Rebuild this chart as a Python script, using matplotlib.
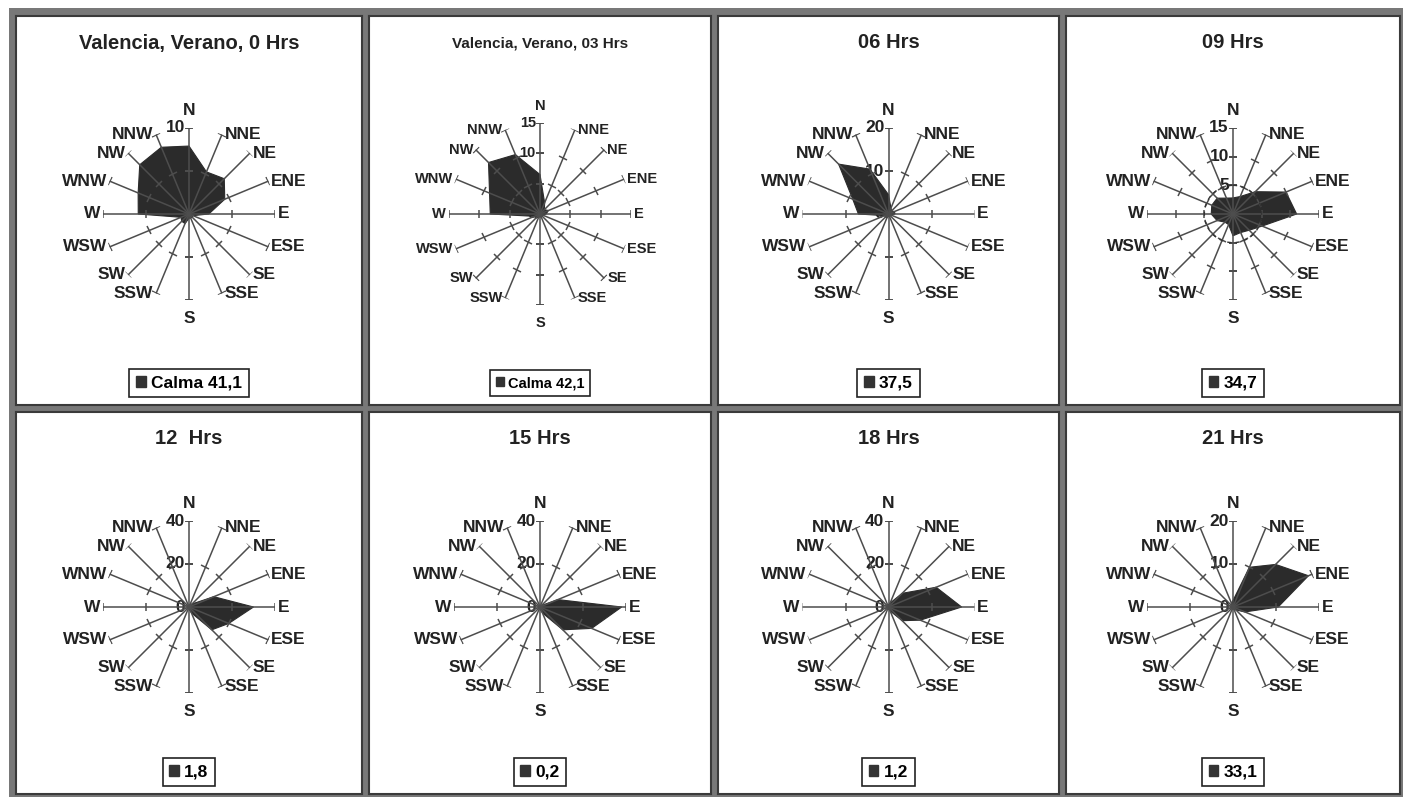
import numpy as np
import matplotlib
matplotlib.use("Agg")
import matplotlib.pyplot as plt
from matplotlib.patches import Patch
from matplotlib.markers import MarkerStyle
from matplotlib.transforms import Affine2D
from matplotlib import font_manager

# fonts: narrow bold like the original, fall back if not installed
names = {f.name for f in font_manager.fontManager.ttflist}
narrow = "Liberation Sans Narrow" if "Liberation Sans Narrow" in names else "Liberation Sans"
plt.rcParams["font.family"] = [narrow, "DejaVu Sans"]

# data (percent of time per direction), N clockwise to NNW
directions = ["N", "NNE", "NE", "ENE", "E", "ESE", "SE", "SSE",
              "S", "SSW", "SW", "WSW", "W", "WNW", "NW", "NNW"]
titles = ["Valencia, Verano, 0 Hrs", "Valencia, Verano, 03 Hrs", "06 Hrs", "09 Hrs",
          "12  Hrs", "15 Hrs", "18 Hrs", "21 Hrs"]
calma = ["Calma 41,1", "Calma 42,1", "37,5", "34,7", "1,8", "0,2", "1,2", "33,1"]

h00 = [7.9, 5.3, 5.8, 4.5, 2.3, 0.5, 0.5, 0.5, 0.5, 1.2, 1.2, 1.0, 5.9, 6.4, 8.1, 8.4]
h03 = [6.5, 2.0, 1.0, 1.5, 1.0, 0.5, 0.5, 0.5, 0.5, 0.5, 1.0, 1.0, 8.2, 9.0, 12.0, 10.6]
h06 = [4.5, 1.5, 1.0, 1.5, 1.5, 0.5, 0.5, 0.5, 0.5, 1.0, 1.0, 1.0, 7.0, 9.0, 16.4, 11.3]
h09 = [2.8, 3.3, 5.5, 10.0, 11.1, 5.5, 4.0, 3.5, 3.8, 2.0, 2.0, 3.0, 3.8, 4.0, 3.9, 3.0]
h12 = [1.0, 1.0, 2.0, 12.5, 30.0, 20.0, 15.0, 3.0, 1.0, 0.5, 0.5, 0.5, 0.5, 0.5, 0.5, 0.5]
h15 = [0.5, 0.5, 1.0, 9.0, 38.0, 26.0, 15.0, 3.0, 1.0, 0.5, 0.5, 0.5, 0.5, 0.5, 0.5, 0.5]
h18 = [1.0, 2.0, 9.0, 24.0, 34.0, 16.0, 9.0, 2.0, 1.0, 0.5, 0.5, 0.5, 0.5, 0.5, 0.5, 0.5]
h21 = [1.5, 10.0, 14.0, 19.0, 10.5, 3.0, 1.0, 0.5, 0.5, 0.5, 0.5, 0.5, 0.5, 0.5, 0.5, 1.0]
series = [h00, h03, h06, h09, h12, h15, h18, h21]

r_max = [10, 15, 20, 15, 40, 40, 40, 20]
r_ticks = [[0, 5, 10], [0, 5, 10, 15], [0, 10, 20], [0, 5, 10, 15],
           [0, 20, 40], [0, 20, 40], [0, 20, 40], [0, 10, 20]]
ring = [None, None, None, 5, None, None, None, None]

# layout in pixels
W, H = 1403, 797
cols = [(16, 362), (369, 711), (718, 1059), (1066, 1400)]
rows = [(16, 405), (412, 794)]


def frac(x0, y0, x1, y1):
    return [x0 / W, 1 - y1 / H, (x1 - x0) / W, (y1 - y0) / H]


fig = plt.figure(figsize=(W / 100, H / 100), dpi=100)
fig.patch.set_facecolor("white")

bg = fig.add_axes(frac(9, 8, W, H))
bg.set_facecolor("#787878")
bg.set_xticks([])
bg.set_yticks([])
for s in bg.spines.values():
    s.set_visible(False)

theta = np.deg2rad(np.arange(16) * 22.5)
fill_c = "#2b2b2b"
line_c = "#4d4d4d"

for i in range(8):
    r, c = divmod(i, 4)
    x0, x1 = cols[c]
    y0, y1 = rows[r]
    pw, ph = x1 - x0, y1 - y0
    small = (i == 1)
    f_title = 11 if small else 14.5
    f_lab = 10.5 if small else 12.5
    f_leg = 10.5 if small else 12.5

    pan = fig.add_axes(frac(x0, y0, x1, y1))
    pan.set_xlim(0, 1)
    pan.set_ylim(0, 1)
    pan.set_xticks([])
    pan.set_yticks([])
    for s in pan.spines.values():
        s.set_color("#3a3a3a")
        s.set_linewidth(1.5)
    pan.text(0.5, 1 - 27 / ph, titles[i], ha="center", va="center",
             fontsize=f_title, fontweight="bold", color="#222222")
    leg = pan.legend([Patch(facecolor="#333333", edgecolor="#333333")], [calma[i]],
                     loc="center", bbox_to_anchor=(0.5, 22 / ph),
                     handlelength=0.55, handleheight=0.55, handletextpad=0.3,
                     borderpad=0.4, fancybox=False, framealpha=1,
                     edgecolor="#222222", prop={"weight": "bold", "size": f_leg})
    leg.get_frame().set_linewidth(1.2)

    # rose
    R = 91 if small else 86
    cx = (x0 + x1) / 2
    cy = y0 + (198 if r == 0 else 195)
    pol = fig.add_axes(frac(cx - R, cy - R, cx + R, cy + R), projection="polar")
    pol.set_theta_zero_location("N")
    pol.set_theta_direction(-1)
    pol.set_ylim(0, r_max[i])
    pol.axis("off")

    vals = series[i]
    pol.fill(np.append(theta, theta[0]), np.append(vals, vals[0]),
             color=fill_c, zorder=3, lw=0.8)

    ticks = [t for t in r_ticks[i] if t > 0]
    for k, t in enumerate(theta):
        deg = k * 22.5
        pol.plot([t, t], [0, r_max[i]], color=line_c, lw=1.1, zorder=4)
        tick_mark = MarkerStyle("_", transform=Affine2D().rotate_deg(-deg))
        pol.plot([t] * len(ticks), ticks, ls="none", marker=tick_mark,
                 ms=6, mew=1.1, mec=line_c, zorder=4)

        # direction labels
        sx = np.sin(t)
        if directions[k] == "N":
            off, ha, va = (0, 7), "center", "bottom"
        elif directions[k] == "S":
            off, ha, va = (0, -8), "center", "top"
        else:
            off = (2 if sx > 0 else -2, 0)
            ha, va = ("left" if sx > 0 else "right"), "center"
        pol.annotate(directions[k], xy=(t, r_max[i]), xytext=off,
                     textcoords="offset points", ha=ha, va=va,
                     fontsize=f_lab, fontweight="bold", color="#222222",
                     annotation_clip=False)

    for t in r_ticks[i]:
        pol.annotate(str(t), xy=(0, t), xytext=(-3, 0), textcoords="offset points",
                     ha="right", va="center", fontsize=f_lab, fontweight="bold",
                     color="#222222", zorder=2, annotation_clip=False)

    if ring[i] is not None:
        circ = np.linspace(0, 2 * np.pi, 200)
        pol.plot(circ, np.full(circ.size, ring[i]), color="#333333", lw=1,
                 ls=(0, (3, 3)), zorder=4)

fig.savefig("out.png", dpi=100, facecolor=fig.get_facecolor())
